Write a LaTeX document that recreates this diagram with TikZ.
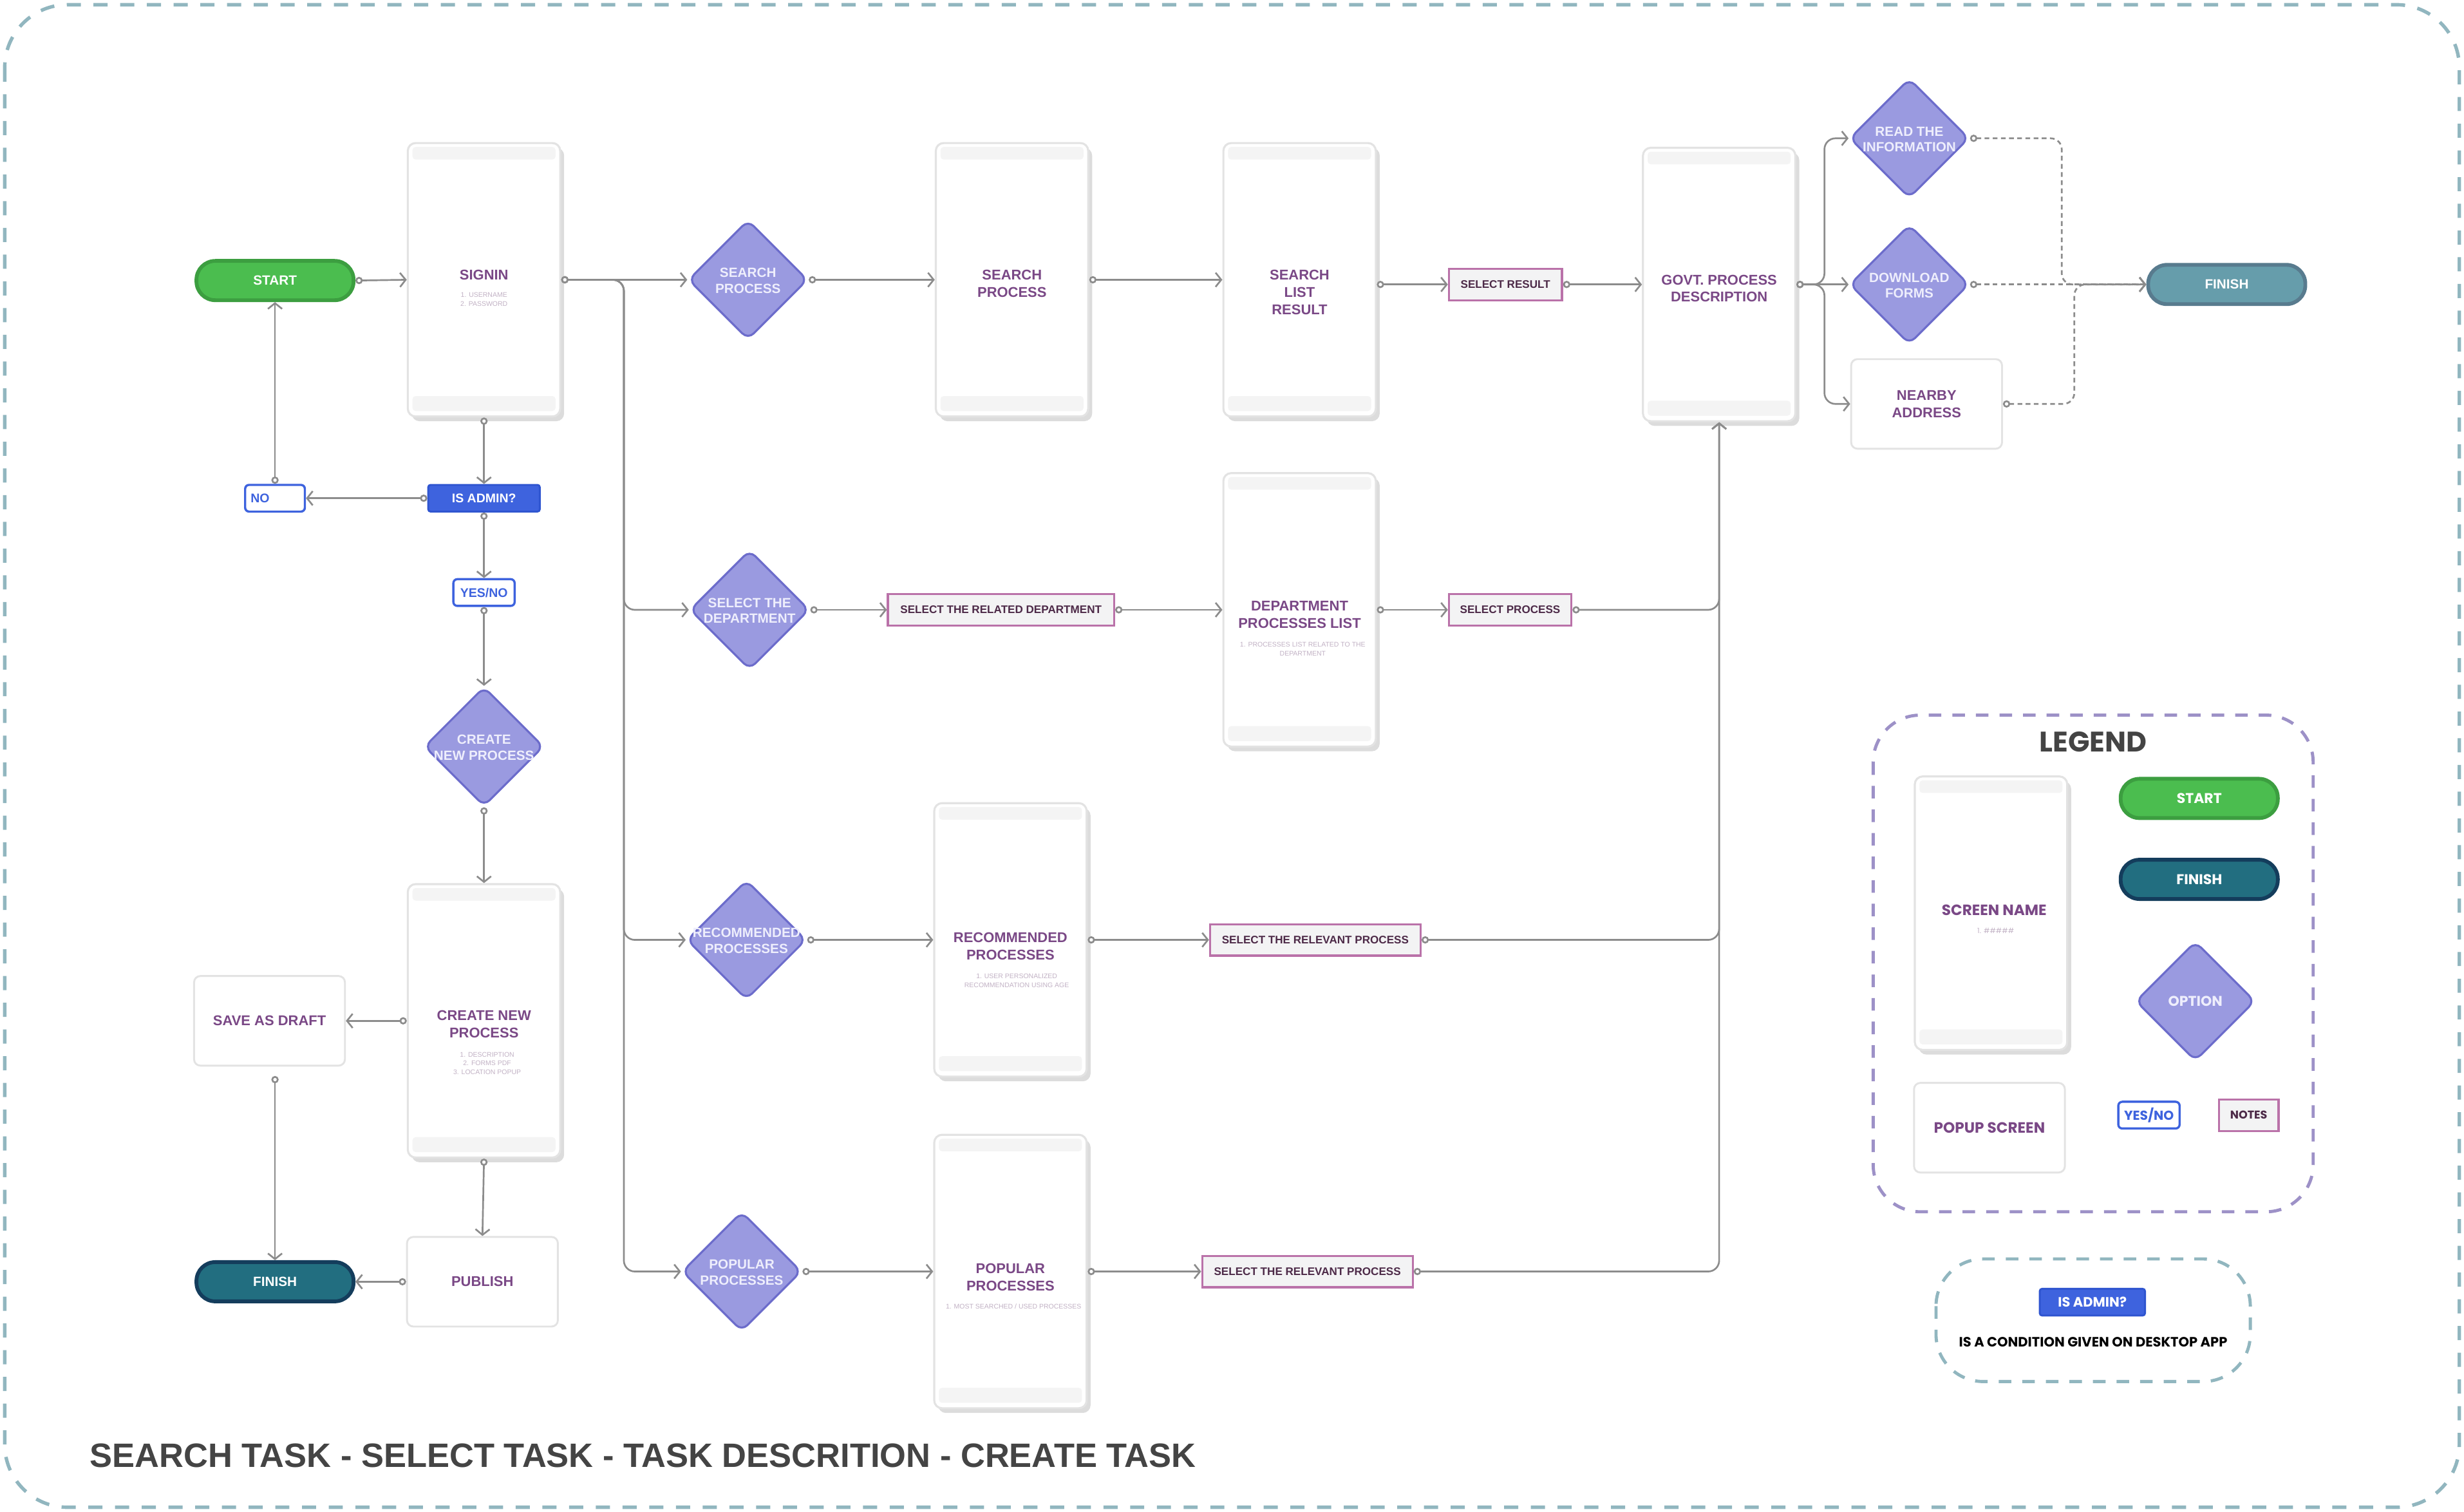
\documentclass[tikz,border=0pt]{standalone}
\usepackage{fontspec}
\setmainfont{Liberation Sans}
\newfontfamily\legfont{Poppins}
\usetikzlibrary{arrows.meta,shapes.geometric,shadows}
\definecolor{lc}{HTML}{8C8C8C}
\definecolor{outc}{HTML}{91B6BF}
\definecolor{legc}{HTML}{9D91C7}
\definecolor{stf}{HTML}{4BBD4F}
\definecolor{stb}{HTML}{3C9E40}
\definecolor{fbf}{HTML}{226E80}
\definecolor{fbb}{HTML}{143D5C}
\definecolor{ftf}{HTML}{669DAB}
\definecolor{ftb}{HTML}{587B8E}
\definecolor{diaf}{HTML}{9A9AE0}
\definecolor{diab}{HTML}{6C6CCB}
\definecolor{diat}{HTML}{EEEEFC}
\definecolor{blf}{HTML}{3E63DE}
\definecolor{blb}{HTML}{2F55D0}
\definecolor{notef}{HTML}{F3F3F4}
\definecolor{noteb}{HTML}{BA72A9}
\definecolor{notet}{HTML}{4D2A48}
\definecolor{scrb}{HTML}{E3E3E3}
\definecolor{barc}{HTML}{F4F4F4}
\definecolor{shd}{HTML}{DCDCDC}
\definecolor{ttl}{HTML}{7A4886}
\definecolor{subc}{HTML}{C2B2C5}
\definecolor{titc}{HTML}{444444}
\newcommand\fs[2]{\fontsize{#1}{#2}\selectfont}
\newcommand\ztext[1]{\makebox[0pt]{\smash{\raisebox{-3.5pt}{\begin{tabular}{@{}c@{}}#1\end{tabular}}}}}
\tikzset{
  conn/.style={draw=lc, line width=1.1pt, rounded corners=7pt,
    {Circle[fill=white,length=4.6pt,width=4.6pt]}-{Straight Barb[length=3.6pt,width=9pt]}},
  dconn/.style={conn, dash pattern=on 3pt off 2.2pt},
  screen/.style={rectangle, draw=scrb, line width=1.3pt, fill=white, rounded corners=5pt,
    minimum width=97pt, minimum height=174pt, inner sep=0pt,
    drop shadow={shadow xshift=2.5pt, shadow yshift=-3pt, fill=shd, opacity=1},
    path picture={
      \fill[barc, rounded corners=2pt] ([xshift=3pt,yshift=-2.5pt]path picture bounding box.north west) rectangle ([xshift=-3pt,yshift=-10.5pt]path picture bounding box.north east);
      \fill[barc, rounded corners=2pt] ([xshift=3pt,yshift=3.5pt]path picture bounding box.south west) rectangle ([xshift=-3pt,yshift=13pt]path picture bounding box.south east);
    }},
  stitle/.style={text=ttl, font=\fs{9}{11}\bfseries, align=center, inner sep=0pt},
  ssub/.style={text=subc, font=\fs{4.3}{5.5}, align=center, inner sep=0pt},
  dia/.style={diamond, draw=diab, fill=diaf, line width=1.3pt, rounded corners=5pt,
    minimum width=76pt, minimum height=76pt, inner sep=0pt, text=diat, font=\fs{8.5}{10}\bfseries},
  pill/.style={rectangle, rounded corners=12pt, minimum width=100pt, minimum height=25pt,
    line width=2.4pt, inner sep=0pt, text=white, font=\fs{8.5}{10}\bfseries},
  bluebox/.style={rectangle, rounded corners=1.5pt, fill=blf, draw=blb, line width=1.2pt,
    text=white, font=\fs{8}{9.5}\bfseries, minimum width=71pt, minimum height=17pt, inner sep=0pt},
  ynbox/.style={rectangle, rounded corners=2.5pt, fill=white, draw=blf, line width=1.4pt,
    text=blf, font=\fs{8}{9.5}\bfseries, minimum width=39pt, minimum height=17pt, inner sep=0pt},
  note/.style={rectangle, fill=notef, draw=noteb, line width=1.3pt, text=notet,
    font=\fs{7}{8}\bfseries, minimum height=20pt, inner sep=0pt},
  popup/.style={rectangle, rounded corners=4pt, fill=white, draw=scrb, line width=1.2pt,
    minimum width=96pt, minimum height=57pt, inner sep=0pt, text=ttl, font=\fs{9}{11}\bfseries, align=center},
  dbox/.style={rounded corners=30pt, line width=2pt, dash pattern=on 8pt off 7pt}
}
\begin{document}
\begin{tikzpicture}[x=1pt,y=-1pt]
\path[use as bounding box] (0,0) rectangle (1568,962);
\draw[outc, line width=2.2pt, rounded corners=40pt, dash pattern=on 9pt off 8pt] (3,3) rectangle (1565,959);

% helper coordinates
\coordinate (trunk) at (397,178);
\coordinate (gb) at (1161,181);
\coordinate (rb) at (1312,88);
\coordinate (nb) at (1320,258);

% top row
\node[pill, fill=stf, draw=stb] (start) at (175,178.5) {START};
\node[screen] (signin) at (308,178) {};
\node[stitle] (signin-t) at (308,175) {SIGNIN};
\node[ssub] (signin-s) at (308,190.5) {1. USERNAME\\2. PASSWORD};
\node[dia] (sd) at (476,178) {\ztext{SEARCH\\PROCESS}};
\node[screen] (sps) at (644,178) {};
\node[stitle] (sps-t) at (644,180.5) {SEARCH\\PROCESS};
\node[screen] (slr) at (827,178) {};
\node[stitle] (slr-t) at (827,186) {SEARCH\\LIST\\RESULT};
\node[note, minimum width=72pt] (selres) at (958,181) {SELECT RESULT};
\node[screen] (govt) at (1094,181) {};
\node[stitle] (govt-t) at (1094,183.5) {GOVT. PROCESS\\DESCRIPTION};
\node[dia] (read) at (1215,88) {\ztext{READ THE\\INFORMATION}};
\node[dia] (dl) at (1215,181) {\ztext{DOWNLOAD\\FORMS}};
\node[popup] (near) at (1226,257) {NEARBY\\ADDRESS};
\node[pill, fill=ftf, draw=ftb] (fint) at (1417,181) {FINISH};

% row 2
\node[dia] (dd) at (477,388) {\ztext{SELECT THE\\DEPARTMENT}};
\node[note, minimum width=144pt] (srd) at (637,388) {SELECT THE RELATED DEPARTMENT};
\node[screen] (dps) at (827,388) {};
\node[stitle] (dps-t) at (827,391) {DEPARTMENT\\PROCESSES LIST};
\node[ssub] (dps-s) at (829,413) {1. PROCESSES LIST RELATED TO THE\\DEPARTMENT};
\node[note, minimum width=78pt] (sp) at (961,388) {SELECT PROCESS};

% row 3
\node[dia] (rd) at (475,598) {\ztext{RECOMMENDED\\PROCESSES}};
\node[screen] (rps) at (643,598) {};
\node[stitle] (rps-t) at (643,602) {RECOMMENDED\\PROCESSES};
\node[ssub] (rps-s) at (647,624) {1. USER PERSONALIZED\\RECOMMENDATION USING AGE};
\node[note, minimum width=134pt] (srp1) at (837,598) {SELECT THE RELEVANT PROCESS};

% row 4
\node[dia] (pd) at (472,809) {\ztext{POPULAR\\PROCESSES}};
\node[screen] (pps) at (643,809) {};
\node[stitle] (pps-t) at (643,812.5) {POPULAR\\PROCESSES};
\node[ssub] (pps-s) at (645,831) {1. MOST SEARCHED / USED PROCESSES};
\node[note, minimum width=134pt] (srp2) at (832,809) {SELECT THE RELEVANT PROCESS};

% admin column
\node[bluebox] (adm) at (308,317) {IS ADMIN?};
\node[ynbox, minimum width=38pt] (no) at (175,317) {\makebox[31pt][l]{NO}};
\node[ynbox] (yn) at (308,377) {YES/NO};
\node[dia] (cd) at (308,475) {\ztext{CREATE\\NEW PROCESS}};
\node[screen] (cps) at (308,649.5) {};
\node[stitle] (cps-t) at (308,651.5) {CREATE NEW\\PROCESS};
\node[ssub] (cps-s) at (310,676.5) {1. DESCRIPTION\\2. FORMS PDF\\3. LOCATION POPUP};
\node[popup] (save) at (171.5,649.5) {SAVE AS DRAFT};
\node[popup] (pub) at (307,815.5) {PUBLISH};
\node[pill, fill=fbf, draw=fbb] (finb) at (175,815.5) {FINISH};

% connectors top
\draw[conn] (start.east) -- (signin.west);
\draw[conn] (signin.east) -- (sd.west);
\draw[conn] (signin.east) -- (signin.east -| trunk) |- (dd.west);
\draw[conn] (signin.east) -- (signin.east -| trunk) |- (rd.west);
\draw[conn] (signin.east) -- (signin.east -| trunk) |- (pd.west);
\draw[conn] (sd.east) -- (sps.west);
\draw[conn] (sps.east) -- (slr.west);
\draw[conn] (slr.east |- selres.west) -- (selres.west);
\draw[conn] (selres.east) -- (govt.west);
\draw[conn] (govt.east) -- (govt.east -| gb) |- (read.west);
\draw[conn] (govt.east) -- (dl.west);
\draw[conn] (govt.east) -- (govt.east -| gb) |- (near.west);
\draw[dconn] (read.east) -- (read.east -| rb) |- (fint.west);
\draw[dconn] (dl.east) -- (fint.west);
\draw[dconn] (near.east) -- (near.east -| nb) |- (fint.west);
% row 2-4
\draw[conn] (dd.east) -- (srd.west);
\draw[conn] (srd.east) -- (dps.west);
\draw[conn] (dps.east) -- (sp.west);
\draw[conn] (sp.east) -| (govt.south);
\draw[conn] (rd.east) -- (rps.west);
\draw[conn] (rps.east) -- (srp1.west);
\draw[conn] (srp1.east) -| (govt.south);
\draw[conn] (pd.east) -- (pps.west);
\draw[conn] (pps.east) -- (srp2.west);
\draw[conn] (srp2.east) -| (govt.south);
% admin
\draw[conn] (signin.south) -- (adm.north);
\draw[conn] (adm.west) -- (no.east);
\draw[conn] (no.north) -- (start.south);
\draw[conn] (adm.south) -- (yn.north);
\draw[conn] (yn.south) -- (cd.north);
\draw[conn] (cd.south) -- (cps.north);
\draw[conn] (cps.west) -- (save.east);
\draw[conn, shorten <=6pt] (save.south -| finb.north) -- (finb.north);
\draw[conn] (cps.south) -- (pub.north);
\draw[conn] (pub.west) -- (finb.east);

% legend
\draw[dbox, legc] (1192,455) rectangle (1472,771);
\node[text=titc, font=\legfont\fs{18}{21}\bfseries, inner sep=0pt] (legt) at (1332,472) {LEGEND};
\node[screen] (lscr) at (1267,581) {};
\node[stitle, font=\legfont\fs{9.5}{11}\bfseries] (lscr-t) at (1269,579) {SCREEN NAME};
\node[ssub, font=\legfont\fs{4.6}{5.5}] (lscr-s) at (1270,592) {1. \#\#\#\#\#};
\node[pill, fill=stf, draw=stb, font=\legfont\fs{9}{10}\bfseries] (lstart) at (1399.5,508) {START};
\node[pill, fill=fbf, draw=fbb, font=\legfont\fs{9}{10}\bfseries] (lfin) at (1399.5,559.5) {FINISH};
\node[dia, font=\legfont\fs{9}{10}\bfseries] (lopt) at (1397,637) {\ztext{OPTION}};
\node[popup, font=\legfont\fs{9.5}{11}\bfseries] (lpop) at (1266,717.5) {POPUP SCREEN};
\node[ynbox, font=\legfont\fs{8.3}{9.5}\bfseries] (lyn) at (1367.5,709.5) {YES/NO};
\node[note, minimum width=38pt, font=\legfont\fs{7.2}{8}\bfseries] (lnote) at (1431,709.5) {NOTES};

\draw[dbox, outc] (1232,801) rectangle (1432,879);
\node[bluebox, minimum width=67pt, minimum height=17pt, font=\legfont\fs{8.6}{10}\bfseries] (ladm) at (1331.5,828.5) {IS ADMIN?};
\node[text=black, font=\legfont\fs{8.6}{10}\bfseries, inner sep=0pt] (lcond) at (1332,854) {IS A CONDITION GIVEN ON DESKTOP APP};

% title
\node[anchor=west, text=titc, font=\fs{21.5}{25}\bfseries, inner sep=0pt] (title) at (57,926) {SEARCH TASK - SELECT TASK - TASK DESCRITION - CREATE TASK};
\end{tikzpicture}
\end{document}
